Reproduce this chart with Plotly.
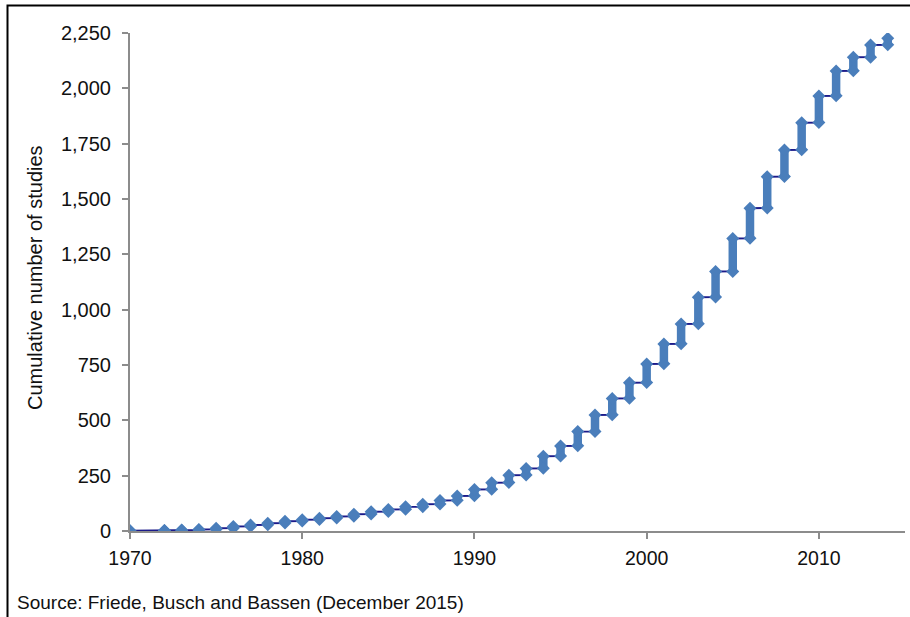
import plotly.graph_objects as go

# Year and cumulative number of studies at the end of that year
years = [1970, 1972, 1973, 1974, 1975, 1976, 1977, 1978, 1979, 1980,
         1981, 1982, 1983, 1984, 1985, 1986, 1987, 1988, 1989, 1990,
         1991, 1992, 1993, 1994, 1995, 1996, 1997, 1998, 1999, 2000,
         2001, 2002, 2003, 2004, 2005, 2006, 2007, 2008, 2009, 2010,
         2011, 2012, 2013, 2014]
cumulative = [1, 2, 4, 7, 12, 20, 27, 35, 44, 51,
              58, 66, 76, 87, 97, 109, 121, 138, 158, 188,
              218, 252, 282, 338, 384, 449, 524, 599, 670, 755,
              845, 935, 1056, 1172, 1322, 1458, 1601, 1721, 1845, 1965,
              2078, 2140, 2196, 2226]

x_ticks = [1970, 1980, 1990, 2000, 2010]
y_ticks = [0, 250, 500, 750, 1000, 1250, 1500, 1750, 2000, 2250]

source_text = "Source: Friede, Busch and Bassen (December 2015)"
y_title = "Cumulative number of studies"

# Build step path and per-year stacks from the data
step_x, step_y = [], []
stack_x, stack_y = [], []
prev = None
for yr, c in zip(years, cumulative):
    lo = c if prev is None else min(prev + 1, c)
    step_x += [yr, yr]
    step_y += [lo, c]
    stack_x += [yr, yr, None]
    stack_y += [lo, c, None]
    prev = c

LINE = "#1B1A8A"
MARK = "#4A7EBB"
AXIS = "#8C8C8C"
FONT = "Liberation Sans, Arial, sans-serif"

fig = go.Figure()
fig.add_trace(go.Scatter(x=step_x, y=step_y, mode="lines",
                         line=dict(color=LINE, width=2), hoverinfo="skip",
                         showlegend=False))
fig.add_trace(go.Scatter(x=stack_x, y=stack_y, mode="lines+markers",
                         line=dict(color=MARK, width=8.5),
                         marker=dict(symbol="diamond", size=10, color=MARK),
                         showlegend=False))

W, H = 910, 617
L, R, T, B = 130, 5, 33, 86
pw, ph = W - L - R, H - T - B

def px(xp):
    return (xp - L) / pw

def py(yp):
    return (H - B - yp) / ph

fig.update_layout(
    width=W, height=H,
    margin=dict(l=L, r=R, t=T, b=B, autoexpand=False),
    paper_bgcolor="white", plot_bgcolor="white",
    font=dict(family=FONT, size=19, color="#111111"),
    xaxis=dict(range=[1970, 2015], tickvals=x_ticks, showgrid=False,
               zeroline=False, showline=True, linecolor=AXIS, linewidth=2,
               ticks="outside", ticklen=6, tickcolor=AXIS, tickwidth=1.5,
               tickfont=dict(size=19.5), ticklabelstandoff=3),
    yaxis=dict(range=[0, 2250], tickvals=y_ticks, tickformat=",",
               showgrid=False, zeroline=False, showline=True,
               linecolor=AXIS, linewidth=2, ticks="outside", ticklen=6,
               tickcolor=AXIS, tickwidth=1.5, tickfont=dict(size=20),
               ticklabelstandoff=7),
    annotations=[
        dict(text=y_title, xref="paper", yref="paper", x=px(35), y=py(278),
             textangle=-90, showarrow=False, xanchor="center",
             yanchor="middle", font=dict(size=20)),
        dict(text=source_text, xref="paper", yref="paper", x=px(15),
             y=py(602), showarrow=False, xanchor="left", yanchor="middle",
             font=dict(size=19)),
    ],
    shapes=[
        dict(type="rect", xref="paper", yref="paper",
             x0=px(7.5), x1=px(925), y0=py(630), y1=py(5.5),
             line=dict(color="black", width=2), fillcolor="rgba(0,0,0,0)",
             layer="above"),
    ],
)

fig.write_html("out.html",
               config={"displayModeBar": False},
               post_script="document.body.style.margin='0px';"
                           "document.body.style.padding='0px';")
